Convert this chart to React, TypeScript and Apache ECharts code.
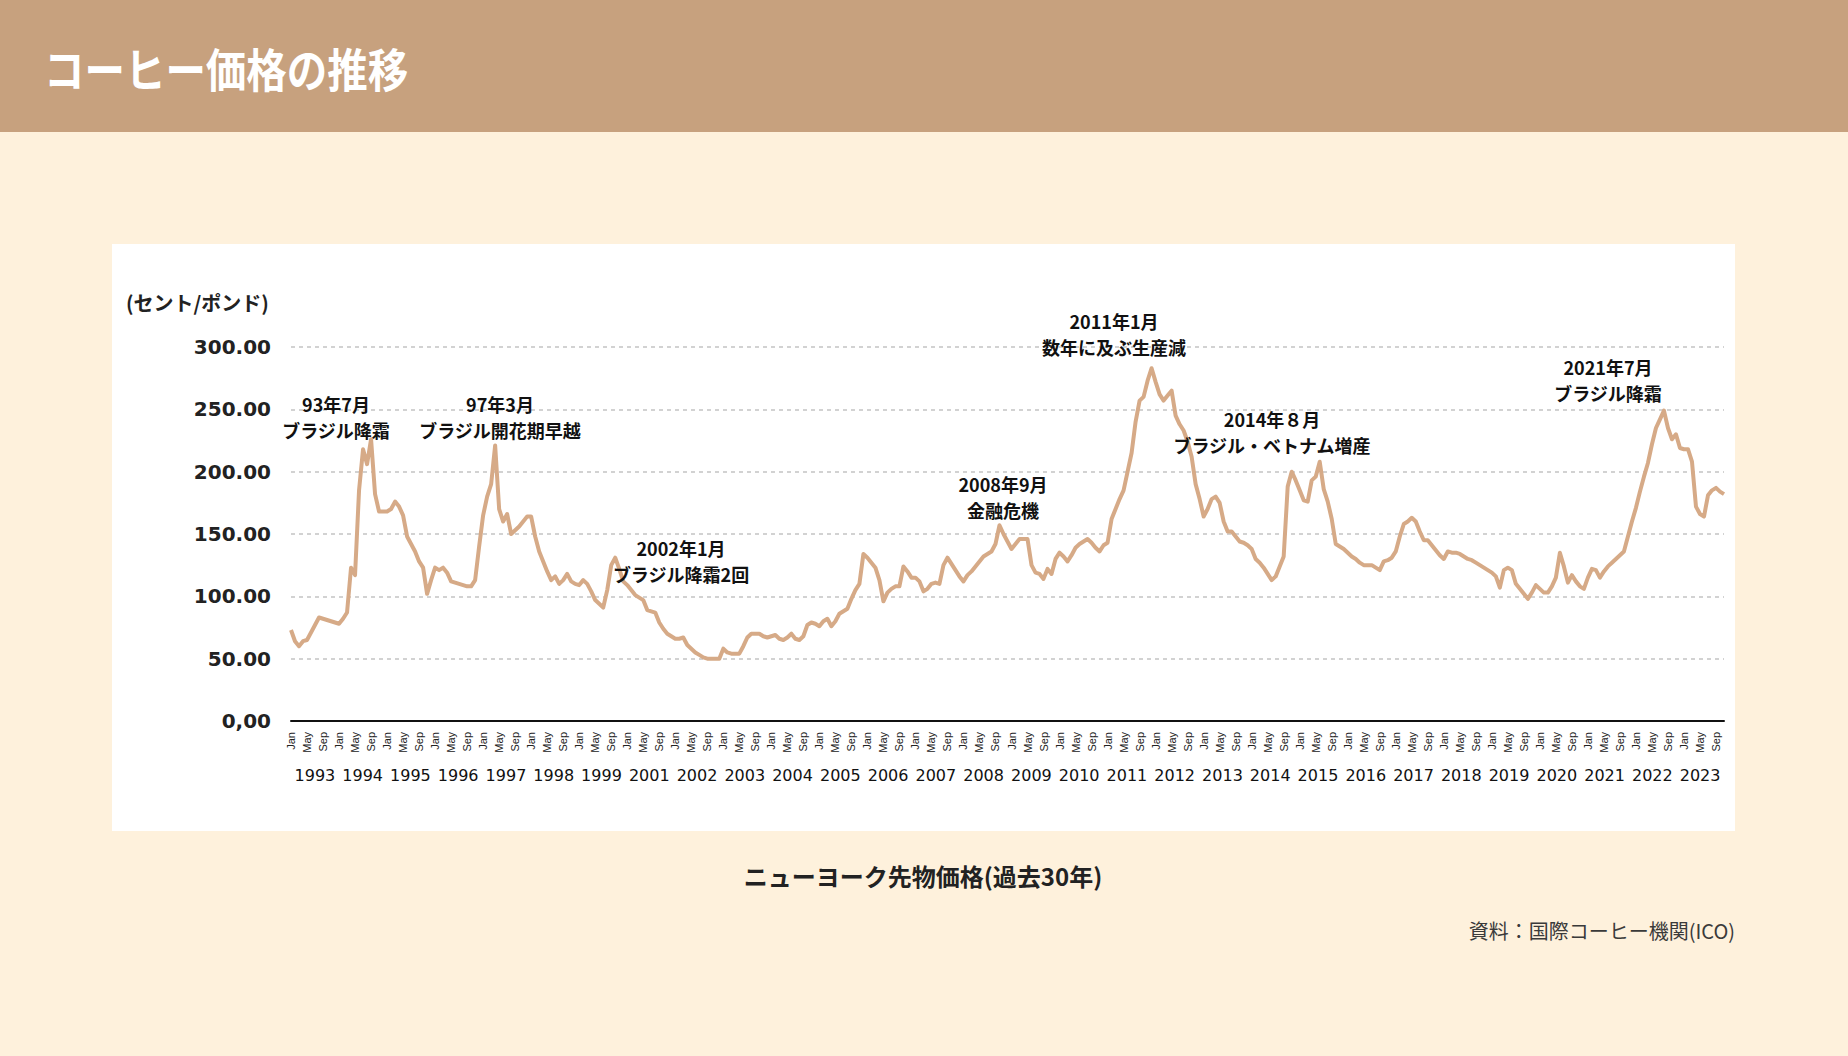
import React, { useEffect, useRef } from 'react';
import * as echarts from 'echarts';

const monthLabels = ['Jan', 'Feb', 'Mar', 'Apr', 'May', 'Jun', 'Jul', 'Aug', 'Sep', 'Oct', 'Nov', 'Dec'];
const shownMonths = ['Jan', 'May', 'Sep'];
const yearLabels = [
  '1993', '1994', '1995', '1996', '1997', '1998', '1999', '2001', '2002', '2003',
  '2004', '2005', '2006', '2007', '2008', '2009', '2010', '2011', '2012', '2013',
  '2014', '2015', '2016', '2017', '2018', '2019', '2020', '2021', '2022', '2023',
];
const yTickLabels = ['0,00', '50.00', '100.00', '150.00', '200.00', '250.00', '300.00'];

// monthly prices (cents / lb), 12 per row
const prices = [
  73, 64, 60, 64, 65, 71, 77, 83, 82, 81, 80, 79,
  78, 82, 87, 123, 117, 185, 218, 206, 226, 182, 168, 168,
  168, 170, 176, 172, 165, 148, 142, 136, 128, 123, 102, 113,
  123, 121, 123, 119, 112, 111, 110, 109, 108, 108, 113, 140,
  165, 180, 190, 221, 170, 160, 166, 150, 153, 156, 160, 164,
  164, 148, 136, 128, 120, 113, 116, 110, 113, 118, 112, 110,
  109, 113, 110, 104, 97, 94, 91, 105, 125, 131, 122, 112,
  109, 105, 101, 99, 97, 89, 88, 87, 79, 74, 70, 68,
  66, 66, 67, 61, 58, 55, 53, 51, 50, 50, 50, 50,
  58, 55, 54, 54, 54, 60, 67, 70, 70, 70, 68, 67,
  68, 69, 66, 65, 67, 70, 66, 65, 68, 77, 79, 78,
  76, 80, 82, 76, 80, 86, 88, 90, 98, 105, 110, 134,
  131, 127, 123, 113, 96, 103, 106, 108, 108, 124, 120, 115,
  115, 112, 104, 106, 110, 111, 110, 125, 131, 126, 121, 116,
  112, 117, 120, 124, 128, 132, 134, 136, 142, 157, 150, 144,
  138, 142, 146, 146, 146, 125, 119, 118, 114, 122, 118, 130,
  135, 132, 128, 133, 139, 142, 144, 146, 143, 139, 136, 141,
  143, 162, 170, 178, 185, 200, 215, 240, 257, 260, 273, 283,
  272, 262, 257, 261, 265, 245, 238, 233, 224, 212, 190, 178,
  164, 170, 178, 180, 175, 160, 152, 152, 148, 144, 143, 141,
  138, 130, 127, 123, 118, 113, 116, 124, 132, 188, 200, 193,
  185, 177, 176, 193, 196, 208, 186, 176, 162, 142, 140, 138,
  135, 132, 130, 127, 125, 125, 125, 123, 121, 128, 129, 131,
  136, 148, 158, 160, 163, 160, 152, 145, 145, 141, 137, 133,
  130, 136, 135, 135, 134, 132, 130, 129, 127, 125, 123, 121,
  119, 116, 107, 121, 123, 121, 110, 106, 102, 98, 103, 109,
  106, 103, 103, 108, 115, 135, 124, 111, 117, 112, 108, 106,
  115, 122, 121, 115, 120, 124, 127, 130, 133, 136, 148, 160,
  171, 184, 196, 207, 222, 235, 242, 249, 235, 226, 230, 219,
  218, 218, 208, 172, 166, 164, 181, 185, 187, 184, 182,
];

const annotationTexts = [
  ['93年7月', 'ブラジル降霜'],
  ['97年3月', 'ブラジル開花期早越'],
  ['2002年1月', 'ブラジル降霜2回'],
  ['2008年9月', '金融危機'],
  ['2011年1月', '数年に及ぶ生産減'],
  ['2014年８月', 'ブラジル・ベトナム増産'],
  ['2021年7月', 'ブラジル降霜'],
];

const titleText = 'コーヒー価格の推移';
const unitText = '(セント/ポンド)';
const subtitleText = 'ニューヨーク先物価格(過去30年)';
const sourceText = '資料：国際コーヒー機関(ICO)';

const categories = prices.map(
  (_, i) => `${yearLabels[Math.floor(i / 12)]} ${monthLabels[i % 12]}`
);

export default function App() {
  const ref = useRef<HTMLDivElement>(null);

  useEffect(() => {
    if (!ref.current) return;
    const chart = echarts.init(ref.current, null, { renderer: 'svg' });
    const W = 1848;
    const H = 1056;
    const gLeft = 291;
    const gRight = 1724;
    const gTop = 347;
    const gBottom = 721;
    const jp = "'Noto Sans CJK JP', sans-serif";
    // centre of each two-line annotation block
    const annPos = [
      [336, 417],
      [500, 417],
      [681, 561],
      [1003, 497],
      [1114, 334],
      [1272, 432],
      [1608, 380],
    ];
    const lineGap = 26;

    const graphics: any[] = [
      { type: 'rect', z: -10, shape: { x: 0, y: 0, width: W, height: 132 }, style: { fill: '#c7a17e' } },
      { type: 'rect', z: -10, shape: { x: 112, y: 244, width: 1623, height: 587 }, style: { fill: '#ffffff' } },
      {
        type: 'text', x: 44, y: 67, scaleX: 0.88,
        style: { text: titleText, fill: '#ffffff', font: `bold 46px ${jp}`, textAlign: 'left', textVerticalAlign: 'middle' },
      },
      {
        type: 'text', x: 126, y: 302,
        style: { text: unitText, fill: '#222222', font: `bold 20px ${jp}`, textAlign: 'left', textVerticalAlign: 'middle' },
      },
      {
        type: 'text', x: 923, y: 875,
        style: { text: subtitleText, fill: '#222222', font: `bold 24px ${jp}`, textAlign: 'center', textVerticalAlign: 'middle' },
      },
      {
        type: 'text', x: 1735, y: 930,
        style: { text: sourceText, fill: '#3a3a3a', font: `20px ${jp}`, textAlign: 'right', textVerticalAlign: 'middle' },
      },
    ];
    annotationTexts.forEach((lines, i) => {
      lines.forEach((line, k) => {
        graphics.push({
          type: 'text', x: annPos[i][0], y: annPos[i][1] + (k - 0.5) * lineGap, z: 10,
          style: {
            text: line, fill: '#111111', font: `bold 18px ${jp}`,
            textAlign: 'center', textVerticalAlign: 'middle',
          },
        });
      });
    });

    chart.setOption({
      animation: false,
      backgroundColor: '#fef1dc',
      textStyle: { fontFamily: jp },
      grid: { left: gLeft, right: W - gRight, top: gTop, bottom: H - gBottom, containLabel: false },
      graphic: graphics,
      xAxis: [
        {
          type: 'category',
          data: categories,
          boundaryGap: false,
          axisLine: { show: true, onZero: false, lineStyle: { color: '#111111', width: 2 } },
          axisTick: { show: false },
          splitLine: { show: false },
          axisLabel: {
            interval: (idx: number) => shownMonths.includes(monthLabels[idx % 12]),
            formatter: (v: string) => v.split(' ')[1],
            rotate: 90,
            margin: 11,
            fontSize: 11,
            fontFamily: "'Liberation Sans', sans-serif",
            color: '#222222',
          },
        },
        {
          type: 'category',
          data: yearLabels,
          boundaryGap: true,
          position: 'bottom',
          offset: 38,
          axisLine: { show: false },
          axisTick: { show: false },
          splitLine: { show: false },
          axisLabel: {
            interval: 0,
            margin: 8,
            fontSize: 16,
            fontFamily: "'DejaVu Sans', sans-serif",
            color: '#111111',
          },
        },
      ],
      yAxis: {
        type: 'value',
        min: 0,
        max: 300,
        interval: 50,
        axisLine: { show: false },
        axisTick: { show: false },
        axisLabel: {
          formatter: (v: number) => yTickLabels[Math.round(v / 50)],
          margin: 20,
          fontSize: 20,
          fontWeight: 'bold',
          fontFamily: "'DejaVu Sans', sans-serif",
          color: '#222222',
        },
        splitLine: { show: true, lineStyle: { color: '#c4c4c4', width: 1.5, type: [4, 4] } },
      },
      series: [
        {
          type: 'line',
          data: prices,
          xAxisIndex: 0,
          symbol: 'none',
          lineStyle: { color: '#d6aa87', width: 4, join: 'round' },
          z: 5,
        },
      ],
    });

    return () => chart.dispose();
  }, []);

  return <div ref={ref} style={{ position: 'fixed', left: 0, top: 0, width: 1848, height: 1056 }} />;
}
